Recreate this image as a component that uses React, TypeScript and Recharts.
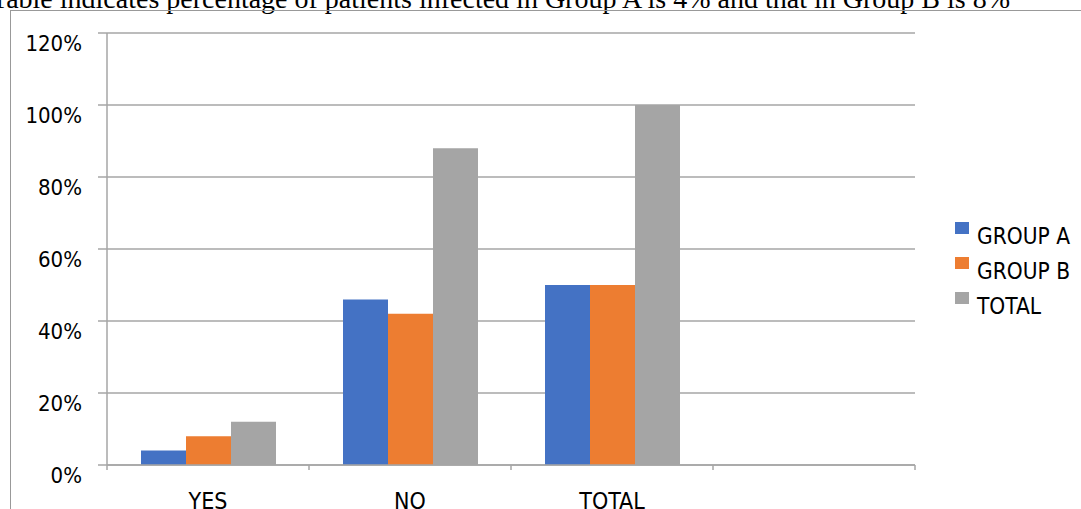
import { Bar, BarChart, CartesianGrid, XAxis, YAxis } from "recharts";

const CATEGORIES = ["YES", "NO", "TOTAL", ""];
const GROUP_A = [4, 46, 50, null];
const GROUP_B = [8, 42, 50, null];
const TOTAL = [12, 88, 100, null];
const Y_TICKS = [0, 20, 40, 60, 80, 100, 120];

const SERIES = [
  { key: "groupA", name: "GROUP A", color: "#4472C4" },
  { key: "groupB", name: "GROUP B", color: "#ED7D31" },
  { key: "total", name: "TOTAL", color: "#A5A5A5" },
];

const data = CATEGORIES.map((name, i) => ({
  name,
  groupA: GROUP_A[i],
  groupB: GROUP_B[i],
  total: TOTAL[i],
}));

const FONT = "'Liberation Sans Narrow', 'DejaVu Sans Condensed', 'Liberation Sans', sans-serif";
const GRID = "#a6a6a6";
const X_TICK_SIZE = 6;
const X_TICK_MARGIN = 21;

// category label plus the boundary tick marks Excel draws between categories
function CategoryTick(props: any) {
  const { x, y, payload, index } = props;
  const half = payload.offset ?? 0;
  const axisY = y - X_TICK_SIZE - X_TICK_MARGIN;
  const last = index === CATEGORIES.length - 1;
  return (
    <g>
      <line x1={x - half} x2={x - half} y1={axisY} y2={axisY + 5} stroke={GRID} strokeWidth={1.5} />
      {last && (
        <line x1={x + half} x2={x + half} y1={axisY} y2={axisY + 5} stroke={GRID} strokeWidth={1.5} />
      )}
      <text x={x} y={y} dy={17} textAnchor="middle" fill="#000" fontSize={23} fontFamily={FONT}>
        {payload.value}
      </text>
    </g>
  );
}

export default function App() {
  return (
    <div
      style={{
        position: "absolute",
        left: 0,
        top: 0,
        width: 1081,
        height: 509,
        overflow: "hidden",
        background: "#fff",
      }}
    >
      <svg width={1081} height={20} style={{ position: "absolute", left: 0, top: 0 }}>
        <text
          x={1010}
          y={8}
          textAnchor="end"
          fontFamily="'Liberation Serif', 'Times New Roman', serif"
          fontSize={28}
          fill="#000"
        >
          Table indicates percentage of patients infected in Group A is 4% and that in Group B is 8%
        </text>
      </svg>
      <div
        style={{
          position: "absolute",
          left: 10,
          top: 10,
          width: 1100,
          height: 520,
          borderTop: "1px solid #999",
          borderLeft: "1px solid #999",
        }}
      />
      <div style={{ position: "absolute", left: 0, top: 0 }}>
        <BarChart
          width={1081}
          height={509}
          data={data}
          margin={{ top: 33, right: 166, bottom: 0, left: 0 }}
          barGap={0}
          barSize={45}
        >
          <CartesianGrid vertical={false} stroke={GRID} strokeWidth={1.5} />
          <XAxis
            dataKey="name"
            height={44}
            tickLine={false}
            tickSize={X_TICK_SIZE}
            tickMargin={X_TICK_MARGIN}
            axisLine={{ stroke: GRID, strokeWidth: 1.5 }}
            tick={<CategoryTick />}
            interval={0}
          />
          <YAxis
            width={107}
            domain={[0, 120]}
            ticks={Y_TICKS}
            interval={0}
            tickFormatter={(v) => `${v}%`}
            tickSize={9}
            tickMargin={16}
            axisLine={{ stroke: GRID, strokeWidth: 1.5 }}
            tickLine={{ stroke: GRID, strokeWidth: 1.5 }}
            tick={{ fill: "#000", fontSize: 22, fontFamily: FONT, dy: 10 }}
          />
          {SERIES.map((s) => (
            <Bar key={s.key} dataKey={s.key} name={s.name} fill={s.color} isAnimationActive={false} />
          ))}
        </BarChart>
      </div>
      <div style={{ position: "absolute", left: 955, top: 222, fontFamily: FONT, fontSize: 22.5 }}>
        {SERIES.map((s) => (
          <div key={s.key} style={{ position: "relative", height: 35 }}>
            <div
              style={{ position: "absolute", left: 0, top: 0, width: 14, height: 12, background: s.color }}
            />
            <div style={{ position: "absolute", left: 22, top: 1, lineHeight: "27px", whiteSpace: "nowrap" }}>
              {s.name}
            </div>
          </div>
        ))}
      </div>
    </div>
  );
}
